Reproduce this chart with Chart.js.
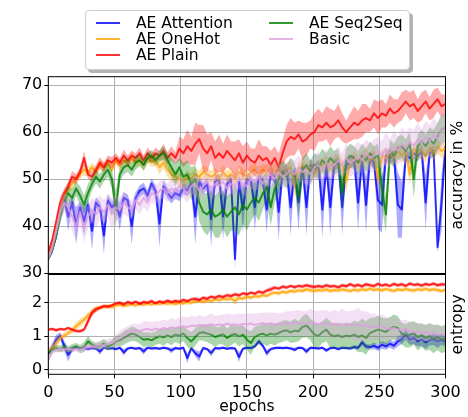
<!DOCTYPE html>
<html>
<head>
<meta charset="utf-8">
<script src="https://cdn.jsdelivr.net/npm/chart.js@4.4.1/dist/chart.umd.min.js"></script>
<style>
  html, body { margin: 0; padding: 0; background: #fff; }
  #wrap { position: relative; width: 468px; height: 417px; overflow: hidden; font-family: "DejaVu Sans", sans-serif; }
  #wrap canvas { position: absolute; left: 0; top: 0; }
  #legend { position: absolute; left: 85px; top: 10px; width: 325px; height: 60px; box-sizing: border-box;
            border: 1px solid #cccccc; border-radius: 4px; background: #fff; box-shadow: 3px 3px 0 #b3b3b3; z-index: 5; }
  .item { position: absolute; height: 18px; font-size: 15.5px; line-height: 18px; color: #000; white-space: nowrap; }
  .item i { position: absolute; left: 0; top: 8px; width: 24px; height: 2px; }
  .item span { position: absolute; left: 40px; top: 0; }
</style>
</head>
<body>
<div id="wrap">
  <canvas id="accChart" width="468" height="417"></canvas>
  <canvas id="entChart" width="468" height="417"></canvas>
  <div id="legend"></div>
</div>
<script>
// ---- epochs (x positions of the logged points) ----
const epochs = [
  0, 3, 6, 9, 12, 15, 18, 21, 24, 27,
  30, 33, 36, 39, 42, 45, 48, 51, 54, 57,
  60, 63, 66, 69, 72, 75, 78, 81, 84, 87,
  90, 93, 96, 99, 102, 105, 108, 111, 114, 117,
  120, 123, 126, 129, 132, 135, 138, 141, 144, 147,
  150, 153, 156, 159, 162, 165, 168, 171, 174, 177,
  180, 183, 186, 189, 192, 195, 198, 201, 204, 207,
  210, 213, 216, 219, 222, 225, 228, 231, 234, 237,
  240, 243, 246, 249, 252, 255, 258, 261, 264, 267,
  270, 273, 276, 279, 282, 285, 288, 291, 294, 297,
  300
];

const seriesNames = ['AE Attention', 'AE OneHot', 'AE Plain', 'AE Seq2Seq', 'Basic'];
const seriesRGB = ['0,0,255', '255,165,0', '255,0,0', '0,128,0', '221,160,221'];

const epochTicks = [0, 50, 100, 150, 200, 250, 300];
const accTicks = [30, 40, 50, 60, 70];
const entTicks = [0, 1, 2];
const accLabel = 'accuracy in %';
const entLabel = 'entropy';
const epochLabel = 'epochs';

// ---- accuracy: mean and spread per model ----
const accAttention = [
  33, 35, 38, 43, 46, 42, 45, 40, 44, 41,
  44.5, 39, 45, 44, 38, 45.5, 44, 45, 42, 46,
  45.5, 40, 46, 47.5, 48, 46.5, 49, 47.5, 40.5, 48.5,
  47, 46, 47, 46.5, 48, 47.5, 49, 42, 49.5, 48,
  49, 41.5, 49.5, 50, 42, 49, 50, 33, 49.5, 43.5,
  50, 49.5, 44, 50.5, 49.5, 43.5, 51, 50.5, 43, 51.5,
  52, 44, 51.5, 45, 52.5, 44, 53, 52, 53, 43.5,
  52.5, 44, 53, 53.5, 44, 53, 53.5, 54, 45, 54,
  44.5, 54.5, 53.5, 45.5, 44.5, 55, 54.5, 55, 44.5, 43.5,
  55, 54.5, 55.5, 55, 56, 45, 55.5, 56, 35.5, 45,
  57
];
const accAttentionSd = [
  0.5, 1, 1, 1.2, 1.2, 3, 1.2, 4, 1.2, 3,
  1.2, 4, 1.2, 1.2, 4, 1.2, 1.2, 1.2, 3, 1.2,
  1.2, 4, 1.2, 1.2, 1.2, 1.2, 1.2, 1.2, 5, 1.2,
  1.2, 1.2, 1.2, 1.2, 1.2, 1.2, 1.2, 6, 1.2, 1.2,
  1.2, 6, 1.2, 1.2, 5, 1.2, 1.2, 2, 1.2, 5,
  1.2, 1.2, 5, 1.2, 1.2, 5, 1.2, 1.2, 6, 1.2,
  1.2, 6, 1.2, 6, 1.2, 6, 1.2, 1.2, 1.2, 6,
  1.2, 6, 1.2, 1.2, 6, 1.2, 1.2, 1.2, 6, 1.2,
  6, 1.2, 1.2, 6, 6, 1.2, 1.2, 1.2, 7, 6,
  1.2, 1.2, 1.2, 1.2, 1.2, 6, 1.2, 1.2, 1, 6,
  1.2
];
const accOneHot = [
  33.5, 36, 40, 44, 46, 48, 49, 50, 51, 52,
  51.5, 52.5, 51.5, 53, 52.5, 53.5, 52, 54, 53, 54,
  53.5, 54.5, 53.5, 54, 53, 54.5, 53.5, 54, 52.5, 53.5,
  52, 51, 50.5, 50, 49.5, 50.5, 50, 51, 50.5, 51.5,
  51, 50.5, 51, 50, 51.5, 50.5, 51, 50, 51.5, 51,
  50.5, 51.5, 52, 51, 52, 51.5, 52.5, 51.5, 52, 51,
  52, 52.5, 48.5, 52, 53, 52, 52.5, 51.5, 52.5, 53,
  53.5, 52.5, 53.5, 54, 53, 49.5, 53.5, 54.5, 53.5, 54.5,
  55, 54, 55.5, 50, 55, 54.5, 55.5, 54.5, 56, 55,
  56, 51, 56.5, 55.5, 56, 55, 56.5, 55.5, 57, 56,
  56.5
];
const accOneHotSd = [
  0.5, 0.8, 1, 1, 1, 1, 1, 1, 1, 1.2,
  1, 1, 1.2, 1, 1, 1.2, 1, 1, 1.2, 1,
  1, 1.2, 1, 1, 1.2, 1, 1, 1.2, 1.5, 1.2,
  1.5, 1.5, 1.2, 1.5, 1.2, 1.5, 1.2, 1.5, 1.2, 1.5,
  1.5, 1.2, 1.5, 1.2, 1.5, 1.2, 1.5, 1.2, 1.5, 1.2,
  1.2, 1.5, 1.2, 1.5, 1.2, 1.5, 1.2, 1.5, 1.2, 1.5,
  1.5, 1.5, 2.5, 1.5, 1.5, 1.5, 1.5, 1.5, 1.5, 1.5,
  1.5, 1.5, 1.5, 1.5, 1.5, 2.5, 1.5, 1.5, 1.5, 1.5,
  1.5, 1.5, 1.5, 2.5, 1.5, 1.5, 1.5, 1.5, 1.5, 1.5,
  1.5, 2.5, 1.5, 1.5, 1.5, 1.5, 1.5, 1.5, 1.5, 1.5,
  1.5
];
const accPlain = [
  34.5, 37, 41, 45, 47, 48.5, 50.5, 50, 51.5, 54.5,
  51, 50.5, 52, 53.5, 52.5, 54, 53.5, 54.5, 53.5, 55,
  54, 55, 54.5, 55.5, 54, 55.5, 54.5, 55.5, 55, 56,
  54.5, 55.5, 54.5, 56.5, 55.5, 57, 56, 57.5, 58.5, 56.5,
  55.5, 57, 54.5, 55.5, 54.5, 56, 55, 54, 55.5, 53.5,
  55, 54, 53.5, 55, 54, 54.5, 53, 54.5, 52.5, 55.5,
  58, 59, 58.5, 59.5, 58, 58.5, 59.5, 60, 61.5, 61,
  62, 61, 61.5, 62.5, 61, 60, 61, 62, 61.5, 62.5,
  63, 62.5, 64, 63, 64, 63.5, 65, 64, 64.5, 65.5,
  66.5, 65.5, 66, 64.5, 65.5, 66.5, 65, 66, 67, 65.5,
  66
];
const accPlainSd = [
  0.5, 0.8, 1, 1.2, 1, 1, 1.2, 1, 1, 1.5,
  1, 1, 1, 1.2, 1, 1, 1.2, 1, 1, 1.3,
  1, 1.1, 1, 1.2, 1, 1.3, 1, 1.2, 1, 1.5,
  1.2, 1.5, 1.2, 2.5, 3, 3.5, 3, 4.5, 3, 5,
  4, 3, 3.5, 4, 3, 3.5, 3, 4, 3, 3.5,
  3, 2.5, 3, 3.5, 3, 2.5, 3, 2.5, 3, 3,
  3.5, 4, 3.5, 3, 4, 3.5, 3, 4, 3.5, 3,
  3.5, 4, 3, 3.5, 3, 2.5, 3, 3.5, 3, 3.5,
  3, 2.5, 3, 3.5, 3, 2.5, 3, 3, 2.5, 3,
  2.5, 3, 3, 2.5, 3, 2.5, 2.5, 3, 2.5, 2.5,
  2
];
const accSeq2Seq = [
  33, 35, 38, 42, 45, 47, 46, 48, 46.5, 44.5,
  47, 49, 50.5, 49.5, 51, 52, 50, 43.5, 51, 52.5,
  53, 52, 53.5, 54, 53, 54.5, 55, 54, 55, 55.5,
  54, 52.5, 51, 52.5, 50.5, 51, 49, 50, 45, 43,
  42.5, 43.5, 42, 42.5, 43.5, 42, 43, 44, 42.5, 44.5,
  43.5, 45, 46, 45, 47, 48.5, 44, 48, 50, 51.5,
  50.5, 52, 51, 46, 52, 53, 51.5, 53, 52.5, 54,
  53, 54.5, 53.5, 54, 47, 54, 55, 54.5, 53.5, 55,
  54, 55.5, 54.5, 55, 48, 42.5, 56, 55, 56.5, 57,
  56, 57.5, 50, 57, 58, 57, 58.5, 57.5, 59, 60.5,
  61
];
const accSeq2SeqSd = [
  0.5, 0.8, 1, 1.5, 1.5, 1.5, 2, 1.5, 2, 2,
  2, 1.5, 1.5, 1.5, 1.5, 1.5, 2, 4, 1.5, 1.5,
  1.5, 1.5, 1.5, 1.2, 1.2, 1.2, 1.2, 1.2, 1.2, 1.5,
  1.5, 2, 2.5, 2, 3, 3, 3.5, 3, 4, 4,
  4.5, 4, 4.5, 5, 4, 4.5, 4, 5, 4.5, 4,
  4.5, 4, 3.5, 4, 3.5, 3, 4, 3, 3, 2.5,
  2.5, 2.5, 2.5, 4, 2.5, 2.5, 2.5, 2.5, 2.5, 2.5,
  2.5, 2.5, 2.5, 2.5, 4, 2.5, 2.5, 2.5, 2.5, 2.5,
  2.5, 2.5, 2.5, 2.5, 4, 4, 2.5, 2.5, 2.5, 2.5,
  2.5, 2.5, 4, 2.5, 2.5, 2.5, 2.5, 3, 3, 3,
  3
];
const accBasic = [
  33, 35.5, 39, 43, 45, 44, 42, 40, 43, 39.5,
  42, 43.5, 42.5, 44, 43, 44.5, 42.5, 44, 43.5, 45,
  44, 43.5, 45.5, 44.5, 46, 45, 47, 46.5, 47.5, 48,
  47, 48, 47.5, 48.5, 48, 47, 48.5, 49, 47.5, 48.5,
  49.5, 48, 49, 48.5, 49.5, 48, 49, 48.5, 50, 49,
  48.5, 50, 49.5, 50.5, 49, 50.5, 51, 50, 51.5, 50.5,
  51, 52, 51, 52.5, 51.5, 52, 51, 52.5, 53, 52,
  53.5, 52.5, 53, 54, 53, 54.5, 53.5, 54, 55, 54,
  55.5, 54.5, 55, 56, 55, 56.5, 55.5, 57, 56, 57.5,
  56.5, 58, 57, 58.5, 57.5, 59, 58, 59.5, 58.5, 60.5,
  61
];
const accBasicSd = [
  0.5, 1, 1.5, 2, 2, 2.5, 3, 3, 2.5, 3,
  2.5, 2.5, 3, 2.5, 2.5, 2.5, 3.5, 2.5, 2.5, 2.5,
  2, 2, 2, 2, 2, 2, 2, 2, 2, 2,
  2, 2, 2, 2, 2, 2, 2, 2, 2.5, 2,
  2, 2.5, 2, 2, 2.5, 2, 2, 2.5, 2, 2,
  2.5, 2, 2, 2.5, 2, 2, 2.5, 2, 2, 2.5,
  2.5, 2.5, 3, 2.5, 2.5, 3, 2.5, 2.5, 3, 2.5,
  3, 2.5, 3, 3, 2.5, 3, 3, 3, 3, 3,
  3, 3, 3.5, 3, 3, 3.5, 3, 3.5, 3, 3.5,
  3.5, 3, 3.5, 3.5, 3, 3.5, 3.5, 3.5, 3.5, 3.5,
  3
];

// ---- entropy: mean and spread per model ----
const entAttention = [
  0.5, 0.65, 0.9, 1.02, 0.72, 0.45, 0.62, 0.68, 0.63, 0.66,
  0.62, 0.65, 0.63, 0.55, 0.66, 0.64, 0.65, 0.62, 0.66, 0.52,
  0.64, 0.66, 0.63, 0.65, 0.55, 0.66, 0.64, 0.65, 0.63, 0.66,
  0.64, 0.58, 0.65, 0.63, 0.66, 0.35, 0.64, 0.5, 0.4, 0.65,
  0.62, 0.5, 0.65, 0.64, 0.66, 0.63, 0.65, 0.64, 0.38, 0.63,
  0.66, 0.65, 0.7, 0.85, 0.72, 0.5, 0.62, 0.65, 0.66, 0.65,
  0.66, 0.64, 0.6, 0.66, 0.65, 0.55, 0.66, 0.65, 0.64, 0.66,
  0.58, 0.65, 0.66, 0.62, 0.66, 0.65, 0.64, 0.68, 0.66, 0.82,
  0.7, 0.68, 0.72, 0.66, 0.75, 0.7, 0.78, 0.72, 0.85, 0.92,
  1.05, 0.9, 0.95, 0.85, 0.9, 0.82, 0.88, 0.92, 0.85, 0.9,
  0.85
];
const entAttentionSd = [
  0.1, 0.15, 0.15, 0.1, 0.15, 0.2, 0.08, 0.05, 0.05, 0.05,
  0.05, 0.04, 0.04, 0.1, 0.04, 0.04, 0.04, 0.05, 0.04, 0.1,
  0.04, 0.04, 0.04, 0.04, 0.1, 0.04, 0.04, 0.04, 0.04, 0.04,
  0.04, 0.08, 0.04, 0.04, 0.04, 0.15, 0.04, 0.1, 0.15, 0.04,
  0.04, 0.1, 0.04, 0.04, 0.04, 0.04, 0.04, 0.04, 0.15, 0.04,
  0.04, 0.04, 0.05, 0.08, 0.06, 0.1, 0.05, 0.04, 0.04, 0.04,
  0.04, 0.04, 0.06, 0.04, 0.04, 0.08, 0.04, 0.04, 0.04, 0.04,
  0.06, 0.04, 0.04, 0.05, 0.04, 0.04, 0.05, 0.06, 0.06, 0.1,
  0.08, 0.08, 0.1, 0.1, 0.12, 0.1, 0.12, 0.12, 0.15, 0.15,
  0.15, 0.15, 0.18, 0.15, 0.18, 0.2, 0.15, 0.18, 0.2, 0.15,
  0.15
];
const entOneHot = [
  0.55, 0.65, 0.8, 0.95, 1.02, 1.1, 1.18, 1.3, 1.4, 1.5,
  1.62, 1.72, 1.82, 1.85, 1.88, 1.9, 1.87, 1.92, 1.95, 1.9,
  1.93, 1.96, 1.92, 1.97, 1.94, 1.98, 1.95, 1.99, 1.96, 2.0,
  1.97, 1.99, 1.96, 2.0, 1.98, 2.02, 2.0, 2.04, 2.05, 2.03,
  2.07, 2.05, 2.1, 2.08, 2.12, 2.1, 2.13, 2.05, 2.15, 2.12,
  2.18, 2.15, 2.2, 2.18, 2.23, 2.2, 2.27, 2.3, 2.28, 2.33,
  2.3, 2.35, 2.33, 2.37, 2.35, 2.4, 2.37, 2.35, 2.38, 2.36,
  2.4, 2.35, 2.38, 2.36, 2.4, 2.37, 2.35, 2.39, 2.36, 2.4,
  2.38, 2.42, 2.38, 2.4, 2.37, 2.41, 2.38, 2.35, 2.4, 2.37,
  2.41, 2.38, 2.36, 2.4, 2.38, 2.42, 2.37, 2.4, 2.38, 2.35,
  2.39
];
const entOneHotSd = [
  0.08, 0.1, 0.12, 0.1, 0.1, 0.1, 0.1, 0.12, 0.12, 0.1,
  0.1, 0.1, 0.08, 0.07, 0.07, 0.06, 0.07, 0.06, 0.07, 0.06,
  0.06, 0.07, 0.06, 0.07, 0.06, 0.07, 0.06, 0.07, 0.06, 0.07,
  0.06, 0.07, 0.06, 0.07, 0.06, 0.07, 0.06, 0.07, 0.06, 0.07,
  0.07, 0.06, 0.07, 0.06, 0.07, 0.06, 0.07, 0.12, 0.07, 0.06,
  0.07, 0.06, 0.07, 0.06, 0.07, 0.06, 0.07, 0.06, 0.07, 0.06,
  0.07, 0.06, 0.07, 0.06, 0.07, 0.06, 0.07, 0.06, 0.07, 0.06,
  0.07, 0.06, 0.07, 0.06, 0.07, 0.06, 0.07, 0.06, 0.07, 0.06,
  0.07, 0.06, 0.07, 0.06, 0.07, 0.06, 0.07, 0.06, 0.07, 0.06,
  0.07, 0.06, 0.07, 0.06, 0.07, 0.06, 0.07, 0.06, 0.07, 0.06,
  0.07
];
const entPlain = [
  1.2, 1.22, 1.18, 1.22, 1.2, 1.25, 1.2, 1.16, 1.15, 1.2,
  1.45, 1.7, 1.8, 1.85, 1.9, 1.88, 1.92, 1.98, 2.0, 1.95,
  2.02, 1.98, 2.03, 1.97, 2.02, 2.0, 2.05, 1.98, 2.04, 2.0,
  2.06, 2.02, 2.05, 2.03, 2.08, 2.05, 2.1, 2.12, 2.08, 2.15,
  2.12, 2.18, 2.15, 2.2, 2.17, 2.22, 2.2, 2.25, 2.22, 2.28,
  2.25, 2.3, 2.27, 2.33, 2.3, 2.36, 2.4, 2.45, 2.42, 2.48,
  2.45, 2.5, 2.46, 2.5, 2.48, 2.52, 2.49, 2.47, 2.5, 2.47,
  2.52, 2.48, 2.5, 2.46, 2.52, 2.49, 2.55, 2.5, 2.53, 2.49,
  2.55, 2.52, 2.5, 2.56, 2.51, 2.54, 2.5, 2.56, 2.52, 2.55,
  2.5, 2.57, 2.53, 2.55, 2.51, 2.56, 2.53, 2.57, 2.52, 2.55,
  2.54
];
const entPlainSd = [
  0.05, 0.04, 0.05, 0.04, 0.05, 0.04, 0.05, 0.05, 0.05, 0.06,
  0.12, 0.1, 0.08, 0.06, 0.05, 0.06, 0.05, 0.05, 0.06, 0.05,
  0.05, 0.06, 0.05, 0.05, 0.06, 0.05, 0.06, 0.05, 0.05, 0.06,
  0.05, 0.05, 0.06, 0.05, 0.06, 0.05, 0.05, 0.06, 0.05, 0.06,
  0.06, 0.05, 0.06, 0.05, 0.05, 0.06, 0.05, 0.06, 0.05, 0.05,
  0.06, 0.05, 0.05, 0.06, 0.05, 0.06, 0.07, 0.06, 0.05, 0.06,
  0.06, 0.05, 0.06, 0.05, 0.06, 0.05, 0.06, 0.06, 0.05, 0.06,
  0.05, 0.06, 0.05, 0.06, 0.05, 0.06, 0.05, 0.06, 0.06, 0.05,
  0.06, 0.05, 0.06, 0.06, 0.05, 0.06, 0.05, 0.06, 0.05, 0.06,
  0.05, 0.06, 0.05, 0.06, 0.05, 0.06, 0.05, 0.06, 0.05, 0.06,
  0.05
];
const entSeq2Seq = [
  0.5, 0.6, 0.65, 0.62, 0.68, 0.6, 0.65, 0.7, 0.62, 0.68,
  0.85, 0.75, 0.7, 0.72, 0.78, 0.7, 0.75, 0.85, 0.88, 0.95,
  1.02, 1.08, 1.05, 0.98, 0.9, 0.92, 0.88, 0.95, 1.0, 0.97,
  1.03, 0.98, 1.05, 1.02, 1.08, 0.95, 0.85, 0.98, 1.1, 1.12,
  1.08, 1.05, 0.98, 1.02, 1.06, 0.95, 1.03, 1.07, 1.0, 1.05,
  0.9, 0.8, 0.98, 1.05, 1.08, 1.03, 1.08, 1.05, 1.1, 1.15,
  1.18, 1.12, 1.17, 1.15, 1.28, 1.32, 1.2, 1.05, 1.02, 1.12,
  1.2, 1.05, 1.0, 1.03, 0.98, 1.02, 1.0, 1.05, 0.98, 1.03,
  0.95, 1.1, 1.15, 1.2, 1.17, 1.13, 1.22, 1.28, 1.25, 1.08,
  1.02, 1.05, 1.1, 0.98, 1.03, 0.95, 1.0, 0.92, 0.97, 0.9,
  0.95
];
const entSeq2SeqSd = [
  0.05, 0.08, 0.1, 0.1, 0.12, 0.1, 0.12, 0.1, 0.12, 0.15,
  0.15, 0.12, 0.1, 0.12, 0.15, 0.12, 0.15, 0.15, 0.18, 0.2,
  0.2, 0.22, 0.2, 0.2, 0.22, 0.2, 0.22, 0.2, 0.22, 0.25,
  0.22, 0.25, 0.22, 0.25, 0.22, 0.25, 0.28, 0.25, 0.22, 0.25,
  0.25, 0.28, 0.3, 0.25, 0.3, 0.28, 0.3, 0.25, 0.3, 0.28,
  0.3, 0.35, 0.3, 0.28, 0.3, 0.32, 0.3, 0.32, 0.3, 0.32,
  0.3, 0.32, 0.35, 0.3, 0.32, 0.35, 0.32, 0.38, 0.35, 0.32,
  0.35, 0.4, 0.35, 0.38, 0.35, 0.4, 0.38, 0.42, 0.45, 0.5,
  0.5, 0.45, 0.4, 0.42, 0.38, 0.4, 0.35, 0.38, 0.35, 0.32,
  0.35, 0.38, 0.35, 0.4, 0.35, 0.38, 0.4, 0.42, 0.38, 0.4,
  0.4
];
const entBasic = [
  0.3, 0.55, 0.6, 0.62, 0.6, 0.63, 0.6, 0.62, 0.6, 0.65,
  0.68, 0.7, 0.7, 0.75, 0.73, 0.78, 0.8, 0.88, 0.95, 1.05,
  1.1, 1.15, 1.18, 1.15, 1.2, 1.22, 1.18, 1.23, 1.2, 1.25,
  1.22, 1.27, 1.24, 1.28, 1.3, 1.27, 1.32, 1.3, 1.34, 1.3,
  1.33, 1.36, 1.32, 1.35, 1.33, 1.38, 1.34, 1.36, 1.33, 1.37,
  1.35, 1.38, 1.34, 1.37, 1.4, 1.36, 1.39, 1.35, 1.38, 1.36,
  1.4, 1.37, 1.41, 1.38, 1.4, 1.37, 1.41, 1.38, 1.36, 1.4,
  1.37, 1.35, 1.38, 1.34, 1.37, 1.33, 1.35, 1.32, 1.36, 1.3,
  1.33, 1.28, 1.3, 1.26, 1.28, 1.24, 1.22, 1.25, 1.2, 1.18,
  1.22, 1.15, 1.12, 1.14, 1.1, 1.12, 1.07, 1.1, 1.05, 1.08,
  1.05
];
const entBasicSd = [
  0.1, 0.1, 0.08, 0.08, 0.08, 0.08, 0.08, 0.08, 0.1, 0.1,
  0.1, 0.1, 0.12, 0.12, 0.12, 0.15, 0.15, 0.18, 0.2, 0.2,
  0.2, 0.22, 0.2, 0.22, 0.25, 0.22, 0.25, 0.22, 0.25, 0.25,
  0.25, 0.28, 0.25, 0.28, 0.3, 0.28, 0.3, 0.28, 0.3, 0.28,
  0.3, 0.32, 0.3, 0.28, 0.32, 0.3, 0.32, 0.3, 0.35, 0.3,
  0.32, 0.3, 0.35, 0.32, 0.3, 0.35, 0.32, 0.35, 0.3, 0.35,
  0.35, 0.38, 0.35, 0.4, 0.35, 0.38, 0.42, 0.38, 0.4, 0.38,
  0.4, 0.38, 0.42, 0.4, 0.45, 0.42, 0.4, 0.45, 0.5, 0.45,
  0.42, 0.4, 0.38, 0.35, 0.38, 0.35, 0.32, 0.3, 0.32, 0.3,
  0.28, 0.3, 0.28, 0.25, 0.28, 0.25, 0.25, 0.22, 0.25, 0.22,
  0.2
];

const accSeries = [
  [accAttention, accAttentionSd], [accOneHot, accOneHotSd], [accPlain, accPlainSd],
  [accSeq2Seq, accSeq2SeqSd], [accBasic, accBasicSd]
];
const entSeries = [
  [entAttention, entAttentionSd], [entOneHot, entOneHotSd], [entPlain, entPlainSd],
  [entSeq2Seq, entSeq2SeqSd], [entBasic, entBasicSd]
];

Chart.defaults.font.family = '"DejaVu Sans", sans-serif';
Chart.defaults.color = '#000';

const TICK_FONT = { size: 16 };
const LABEL_FONT = '15.5px "DejaVu Sans"';
const GRID = '#b0b0b0';

// mean line plus shaded mean ± sd band; later models are painted on top
function buildDatasets(series) {
  const out = [];
  series.forEach(([mean, sd], s) => {
    const rgb = seriesRGB[s];
    const n = Math.min(mean.length, sd.length, epochs.length);
    const lo = [], hi = [], mid = [];
    for (let i = 0; i < n; i++) {
      lo.push({ x: epochs[i], y: mean[i] - sd[i] });
      hi.push({ x: epochs[i], y: mean[i] + sd[i] });
      mid.push({ x: epochs[i], y: mean[i] });
    }
    const base = 100 - s * 3;
    out.push({ label: seriesNames[s] + ' lo', data: lo, borderColor: 'rgba(0,0,0,0)', borderWidth: 0,
               pointRadius: 0, fill: false, order: base });
    out.push({ label: seriesNames[s] + ' hi', data: hi, borderColor: 'rgba(0,0,0,0)', borderWidth: 0,
               pointRadius: 0, fill: '-1', backgroundColor: `rgba(${rgb},0.33)`, order: base - 1 });
    out.push({ label: seriesNames[s], data: mid, borderColor: `rgba(${rgb},0.8)`, borderWidth: 2,
               pointRadius: 0, fill: false, borderJoinStyle: 'round', borderCapStyle: 'round', order: base - 2 });
  });
  return out;
}

// black frame around the plotting area
const framePlugin = {
  id: 'frame',
  afterDraw(chart) {
    const { ctx, chartArea: a } = chart;
    ctx.save();
    ctx.strokeStyle = '#000';
    ctx.lineWidth = 1;
    ctx.strokeRect(a.left, a.top, a.right - a.left, a.bottom - a.top);
    ctx.restore();
  }
};

// vertical axis label on the right side, reading bottom to top
const sideLabelPlugin = {
  id: 'sideLabel',
  afterDraw(chart, args, opts) {
    if (!opts || !opts.text) return;
    const { ctx, chartArea: a } = chart;
    ctx.save();
    ctx.font = LABEL_FONT;
    ctx.fillStyle = '#000';
    ctx.textAlign = 'center';
    ctx.textBaseline = 'middle';
    ctx.translate(opts.x, (a.top + a.bottom) / 2);
    ctx.rotate(-Math.PI / 2);
    ctx.fillText(opts.text, 0, 0);
    ctx.restore();
  }
};

function xScale(showLabels) {
  return {
    type: 'linear', min: 0, max: 300,
    afterBuildTicks: s => { s.ticks = epochTicks.map(v => ({ value: v })); },
    ticks: { display: showLabels, font: TICK_FONT, padding: 5, maxRotation: 0, autoSkip: false },
    grid: { color: GRID, lineWidth: 1, drawTicks: true, tickLength: 4, tickColor: '#000' },
    border: { display: false },
    title: showLabels ? { display: true, text: epochLabel, font: { size: 15.5 }, padding: { top: 0, bottom: 1 } } : { display: false },
    afterFit: s => { s.height = showLabels ? 42.7 : 0; }
  };
}

function yScale(min, max, tickVals) {
  return {
    type: 'linear', min, max,
    afterBuildTicks: s => { s.ticks = tickVals.map(v => ({ value: v })); },
    ticks: { font: TICK_FONT, padding: 2 },
    grid: { color: GRID, lineWidth: 1, drawTicks: true, tickLength: 4, tickColor: '#000' },
    border: { display: false },
    afterFit: s => { s.width = 48.3; }
  };
}

const common = {
  responsive: false,
  animation: false,
  devicePixelRatio: 1,
  events: [],
  elements: { line: { tension: 0 } }
};

new Chart(document.getElementById('accChart'), {
  type: 'line',
  data: { datasets: buildDatasets(accSeries) },
  options: Object.assign({}, common, {
    layout: { padding: { left: 0, right: 22.5, top: 76.7, bottom: 143.5 } },
    scales: { x: xScale(false), y: yScale(29.9, 71.8, accTicks) },
    plugins: { legend: { display: false }, tooltip: { enabled: false },
               sideLabel: { text: accLabel, x: 457.5 } }
  }),
  plugins: [framePlugin, sideLabelPlugin]
});

new Chart(document.getElementById('entChart'), {
  type: 'line',
  data: { datasets: buildDatasets(entSeries) },
  options: Object.assign({}, common, {
    layout: { padding: { left: 0, right: 22.5, top: 274.5, bottom: 0 } },
    scales: { x: xScale(true), y: yScale(-0.13, 2.84, entTicks) },
    plugins: { legend: { display: false }, tooltip: { enabled: false },
               sideLabel: { text: entLabel, x: 457.5 } }
  }),
  plugins: [framePlugin, sideLabelPlugin]
});

// legend: two columns, filled column by column
const legendEl = document.getElementById('legend');
const rowTops = [2.7, 19, 35.3];
const colLefts = [10, 183];
seriesNames.forEach((name, i) => {
  const col = Math.floor(i / 3), row = i % 3;
  const item = document.createElement('div');
  item.className = 'item';
  item.style.left = colLefts[col] + 'px';
  item.style.top = rowTops[row] + 'px';
  const sw = document.createElement('i');
  sw.style.background = `rgba(${seriesRGB[i]},0.8)`;
  const tx = document.createElement('span');
  tx.textContent = name;
  item.appendChild(sw);
  item.appendChild(tx);
  legendEl.appendChild(item);
});
</script>
</body>
</html>
